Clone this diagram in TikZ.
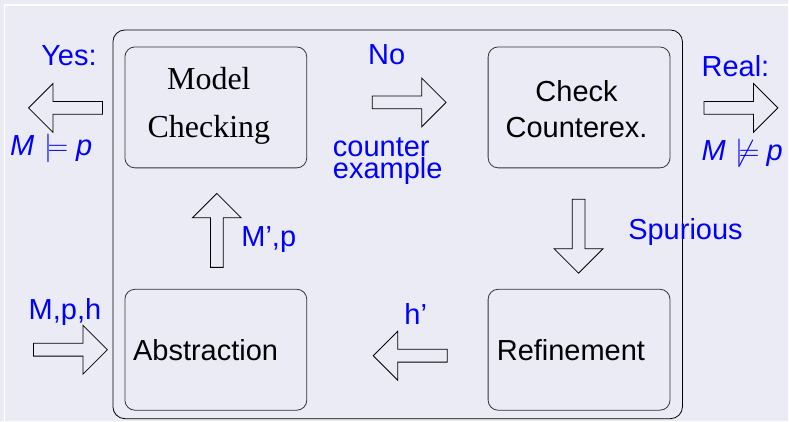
\documentclass[tikz,border=0pt]{standalone}
\usepackage{amssymb}
\usepackage{fontspec}
\setmainfont{Liberation Sans}
\newfontfamily\timesfont{Liberation Serif}
\usetikzlibrary{shapes.arrows}
\definecolor{pagebg}{RGB}{235,235,245}
\tikzset{
  stage/.style={draw=black!80, line width=0.8pt, rounded corners=10pt, minimum width=182pt, minimum height=121pt},
  fatarrow/.style={single arrow, draw, line width=0.8pt, inner sep=6pt, single arrow head extend=18pt, minimum height=74pt},
  lbl/.style={text=blue, font=\fontsize{29}{22}\selectfont, inner sep=0pt},
  txt/.style={font=\fontsize{29}{36}\selectfont, inner sep=0pt, align=center},
}

\begin{document}
\begin{tikzpicture}[x=1pt,y=-1pt]
\fill[pagebg] (0,0) rectangle (789,421);
\draw[white, line width=1.2pt] (4.5,421) -- (4.5,5) -- (789,5);
% outer frame
\draw[line width=0.8pt, rounded corners=12pt] (113,30) rectangle (683,419);

% the four stages
\node[stage] (checking) at (216,107.5) {};
\node[stage] (counterex) at (579.5,107.5) {};
\node[stage] (abstraction) at (216,350) {};
\node[stage] (refinement) at (579.5,350) {};
\node[txt, font=\timesfont\fontsize{32}{48}\selectfont, anchor=base] (checkingtext) at (209,138) {Model\\Checking};
\node[txt, anchor=base] (counterextext) at (577,138) {Check\\Counterex.};
\node[txt, anchor=base west] (abstractiontext) at (133,361) {Abstraction};
\node[txt, anchor=base west] (refinementtext) at (497,361) {Refinement};

% fat arrows
\node[fatarrow, shape border rotate=180, anchor=tip] (yesarrow) at (28,108) {};
\node[fatarrow, anchor=tip] (noarrow) at (447,102.5) {};
\node[fatarrow, anchor=tip] (realarrow) at (779,108) {};
\node[fatarrow, shape border rotate=90, anchor=tip] (abstrarrow) at (217,193) {};
\node[fatarrow, shape border rotate=270, anchor=tip] (spurarrow) at (579,274) {};
\node[fatarrow, anchor=tip] (inputarrow) at (108,350) {};
\node[fatarrow, shape border rotate=180, anchor=tip] (refarrow) at (373,356) {};

% labels
\node[lbl, anchor=base] (yes) at (69,66) {Yes:};
\node[lbl, anchor=base west] (holds) at (10,156) {\textit{M}\hspace{10pt}\scalebox{1.15}{$\models$}\hspace{8pt}\textit{p}};
\node[lbl, anchor=base] (no) at (387,65) {No};
\node[lbl, anchor=base west, align=left] (cex) at (333,179) {counter\\example};
\node[lbl, anchor=base] (real) at (736,77) {Real:};
\node[lbl, anchor=base west] (fails) at (702,161) {\textit{M}\hspace{10pt}\scalebox{1.15}{$\not\models$}\hspace{7pt}\textit{p}};
\node[lbl, anchor=base] (mp) at (269,247) {M’,p};
\node[lbl, anchor=base] (spurious) at (686,240) {Spurious};
\node[lbl, anchor=base] (mph) at (65,320) {M,p,h};
\node[lbl, anchor=base] (hprime) at (416,325) {h’};
\end{tikzpicture}
\end{document}
